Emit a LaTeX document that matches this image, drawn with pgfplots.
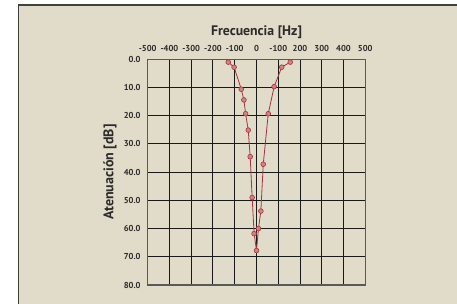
\documentclass[border=0pt]{standalone}
\usepackage{fontspec}
\setmainfont{PT Sans}
\usepackage{pgfplots}
\pgfplotsset{compat=1.18}
\definecolor{bg}{HTML}{E1DBC9}
\definecolor{frame}{HTML}{404040}
\definecolor{txt}{HTML}{2B2B2B}
\definecolor{lin}{HTML}{A8323E}
\definecolor{mfill}{HTML}{CC8580}
\begin{document}
\begin{tikzpicture}[x=1pt,y=1pt]
\useasboundingbox (0,0) rectangle (457,304);
\begin{scope}
\clip (0,0) rectangle (457,304);
\fill[white] (0,0) rectangle (457,304);
\draw[frame, line width=1.3pt, fill=bg] (18.5,-10) rectangle (470,299);
\end{scope}
\begin{axis}[
  at={(147.7pt,19pt)}, anchor=south west,
  scale only axis, width=217.6pt, height=225.7pt,
  xmin=-500, xmax=500, ymin=0, ymax=80,
  y dir=reverse,
  xtick={-500,-400,...,500},
  xticklabels={-500,-400,-300,-200,-100,0,-100,200,300,400,500},
  ytick={0,10,...,80},
  yticklabels={0.0,10.0,20.0,30.0,40.0,50.0,60.0,70.0,80.0},
  xticklabel pos=upper,
  tick style={draw=none},
  grid=major,
  grid style={draw=black!90, line width=1pt},
  axis line style={draw=black!65, line width=1.3pt},
  xticklabel style={font=\fontsize{8.6}{9}\selectfont\bfseries, text=txt, inner sep=0pt, anchor=base, yshift=7.8pt},
  yticklabel style={font=\fontsize{8.6}{9}\selectfont\bfseries, text=txt, inner sep=0pt, anchor=east, xshift=-7pt},
  xlabel={Frecuencia [Hz]},
  ylabel={Atenuación [dB]},
  every axis x label/.style={font=\fontsize{13.8}{15}\selectfont\bfseries, text=txt, at={(axis description cs:0.5,1.1196)}, anchor=center, inner sep=0pt},
  every axis y label/.style={font=\fontsize{14}{15}\selectfont\bfseries, text=txt, at={(axis description cs:-0.1733,0.5)}, anchor=center, rotate=90, inner sep=0pt},
  clip=false,
]
\addplot[color=lin, line width=0.8pt, mark=*, mark size=2.4pt, mark options={fill=mfill, draw=lin, line width=0.6pt}] coordinates {
(-130,1.0) (-103,2.8) (-70,10.6) (-58,14.4) (-50,19.3) (-38,25.1) (-29,34.5) (-20,49.0) (-11,61.8) (0,67.8)
(9,60.0) (20,53.8) (31,37.2) (54,19.3) (81,9.7) (116,2.8) (155,1.0)
};
\end{axis}
\end{tikzpicture}
\end{document}
